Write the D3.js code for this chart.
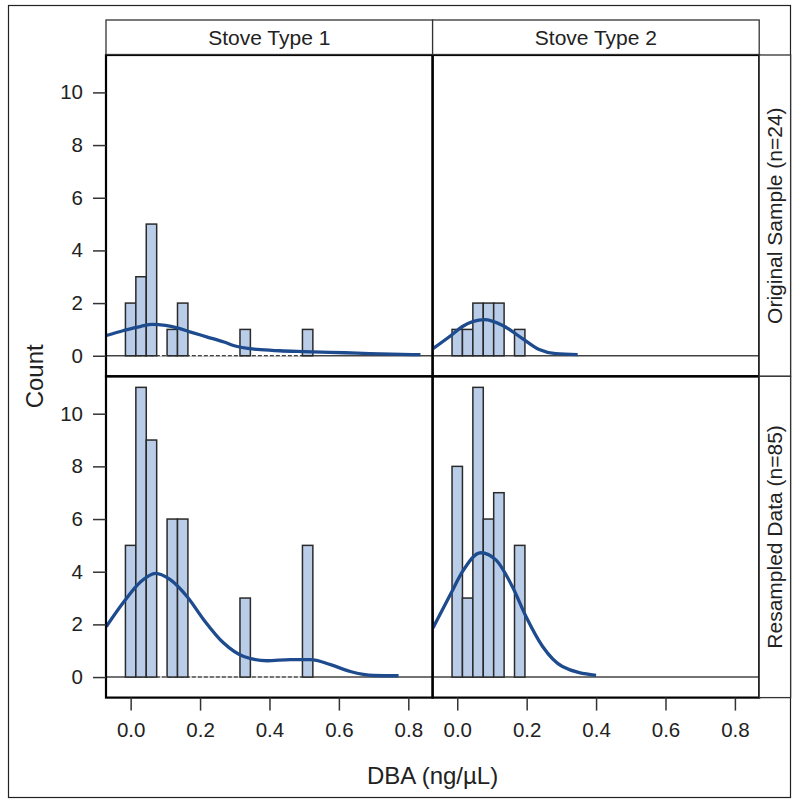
<!DOCTYPE html>
<html>
<head>
<meta charset="utf-8">
<script src="https://cdn.jsdelivr.net/npm/d3@7"></script>
<style>
  body { margin: 0; background: #fff; }
  svg text { font-family: "Liberation Sans", Arial, sans-serif; fill: #222; }
</style>
</head>
<body>
<svg width="796" height="801"></svg>
<script>
// column / row labels
const columns = ["Stove Type 1", "Stove Type 2"];
const rows = ["Original Sample (n=24)", "Resampled Data (n=85)"];

// histogram bin centers (bin width 0.03) and counts
const binWidth = 0.03;
const binsType1 = [0.0, 0.03, 0.06, 0.12, 0.15, 0.33, 0.51];
const origType1 = [2, 3, 5, 1, 2, 1, 1];
const resType1 = [5, 11, 9, 6, 6, 3, 5];
const binsType2 = [0.0, 0.03, 0.06, 0.09, 0.12, 0.18];
const origType2 = [1, 1, 2, 2, 2, 1];
const resType2 = [8, 3, 11, 6, 7, 5];

// kernel density curves: [x, count]
const kdeOrig1 = [[-0.07, 0.77], [-0.02, 0.96], [0.03, 1.12], [0.062, 1.19], [0.1, 1.15], [0.134, 1.06],
  [0.173, 0.9], [0.221, 0.71], [0.269, 0.52], [0.296, 0.39], [0.365, 0.24], [0.43, 0.19],
  [0.498, 0.16], [0.575, 0.13], [0.652, 0.1], [0.75, 0.06], [0.835, 0.04]];
const kdeRes1 = [[-0.07, 1.92], [-0.019, 2.87], [0.029, 3.62], [0.072, 3.94], [0.115, 3.69], [0.163, 3.05],
  [0.211, 2.17], [0.268, 1.29], [0.326, 0.78], [0.393, 0.62], [0.46, 0.66], [0.518, 0.66],
  [0.576, 0.47], [0.633, 0.21], [0.7, 0.06], [0.772, 0.05]];
const kdeOrig2 = [[-0.07, 0.27], [-0.018, 0.77], [0.015, 1.11], [0.078, 1.37], [0.131, 1.15],
  [0.188, 0.65], [0.236, 0.24], [0.284, 0.08], [0.347, 0.04]];
const kdeRes2 = [[-0.07, 1.86], [-0.018, 3.18], [0.015, 4.0], [0.068, 4.72], [0.112, 4.44],
  [0.159, 3.43], [0.198, 2.3], [0.246, 1.16], [0.303, 0.4], [0.4, 0.06]];

// axis ticks
const xTicks = [0, 0.2, 0.4, 0.6, 0.8];
const yTicks = [0, 2, 4, 6, 8, 10];

const panels = [
  { row: 0, col: 0, bins: binsType1, counts: origType1, kde: kdeOrig1 },
  { row: 0, col: 1, bins: binsType2, counts: origType2, kde: kdeOrig2 },
  { row: 1, col: 0, bins: binsType1, counts: resType1, kde: kdeRes1 },
  { row: 1, col: 1, bins: binsType2, counts: resType2, kde: kdeRes2 },
];

// layout
const gridLeft = 106, gridTop = 55;
const panelW = 326.6, panelH = 321.3;
const stripTop = 20, stripH = 34.5, stripW = 31.4;

const svg = d3.select("svg");

const x = d3.scaleLinear().domain([-0.071, 0.87]).range([0, panelW]);
const y = d3.scaleLinear().domain([-0.78, 11.42]).range([panelH, 0]);

drawFrame();
panels.forEach(drawPanel);
drawStrips();
drawAxes();

function drawFrame() {
  svg.append("rect")
    .attr("x", 8.5).attr("y", 5.5)
    .attr("width", 782).attr("height", 792)
    .attr("fill", "none")
    .attr("stroke", "#222")
    .attr("stroke-width", 1.2);
}

function drawPanel(p) {
  const g = svg.append("g")
    .attr("transform", `translate(${gridLeft + p.col * panelW},${gridTop + p.row * panelH})`);

  // zero line
  g.append("line")
    .attr("x1", 0).attr("x2", panelW)
    .attr("y1", y(0)).attr("y2", y(0))
    .attr("stroke", "#444")
    .attr("stroke-width", 1.4);

  // empty bins between bars show as a dashed baseline
  if (p.col === 0) {
    g.append("line")
      .attr("x1", x(d3.min(p.bins) + binWidth / 2))
      .attr("x2", x(d3.max(p.bins) - binWidth / 2))
      .attr("y1", y(0)).attr("y2", y(0))
      .attr("stroke", "#fff")
      .attr("stroke-width", 1.6)
      .attr("stroke-dasharray", "2,4");
  }

  // bars
  g.selectAll("rect.bar")
    .data(p.bins.map((b, i) => ({ b: b, c: p.counts[i] })))
    .join("rect")
    .attr("class", "bar")
    .attr("x", (d) => x(d.b - binWidth / 2))
    .attr("width", x(binWidth) - x(0))
    .attr("y", (d) => y(d.c))
    .attr("height", (d) => y(0) - y(d.c))
    .attr("fill", "#b9cde8")
    .attr("stroke", "#2a2a2a")
    .attr("stroke-width", 1.5);

  // density curve
  const line = d3.line()
    .x((d) => x(d[0]))
    .y((d) => y(d[1]))
    .curve(d3.curveMonotoneX);

  g.append("path")
    .datum(p.kde)
    .attr("d", line)
    .attr("fill", "none")
    .attr("stroke", "#1d4b8e")
    .attr("stroke-width", 3.3);

  // panel border
  g.append("rect")
    .attr("width", panelW).attr("height", panelH)
    .attr("fill", "none")
    .attr("stroke", "#000")
    .attr("stroke-width", 2.2);
}

function drawStrips() {
  // column headers
  columns.forEach(function (name, i) {
    const sx = gridLeft + i * panelW;
    svg.append("rect")
      .attr("x", sx).attr("y", stripTop)
      .attr("width", panelW).attr("height", stripH)
      .attr("fill", "#fff")
      .attr("stroke", "#333")
      .attr("stroke-width", 1.3);
    svg.append("text")
      .attr("x", sx + panelW / 2)
      .attr("y", stripTop + stripH / 2)
      .attr("text-anchor", "middle")
      .attr("dominant-baseline", "central")
      .attr("font-size", 21)
      .text(name);
  });

  // row headers on the right
  rows.forEach(function (name, i) {
    const sx = gridLeft + 2 * panelW;
    const sy = gridTop + i * panelH;
    svg.append("rect")
      .attr("x", sx).attr("y", sy)
      .attr("width", stripW).attr("height", panelH)
      .attr("fill", "#fff")
      .attr("stroke", "#333")
      .attr("stroke-width", 1.3);
    svg.append("text")
      .attr("transform", `translate(${sx + stripW / 2},${sy + panelH / 2}) rotate(-90)`)
      .attr("text-anchor", "middle")
      .attr("dominant-baseline", "central")
      .attr("font-size", 21)
      .text(name);
  });
}

function drawAxes() {
  // y axis for each row
  rows.forEach(function (r, i) {
    const ax = svg.append("g")
      .attr("transform", `translate(${gridLeft},${gridTop + i * panelH})`)
      .call(d3.axisLeft(y).tickValues(yTicks).tickSize(13).tickPadding(10));
    styleAxis(ax);
  });

  // x axis for each column
  columns.forEach(function (c, i) {
    const ax = svg.append("g")
      .attr("transform", `translate(${gridLeft + i * panelW},${gridTop + 2 * panelH})`)
      .call(d3.axisBottom(x).tickValues(xTicks).tickFormat(d3.format(".1f")).tickSize(13).tickPadding(12));
    styleAxis(ax);
  });

  // axis titles
  svg.append("text")
    .attr("transform", `translate(34,${gridTop + panelH}) rotate(-90)`)
    .attr("text-anchor", "middle")
    .attr("dominant-baseline", "central")
    .attr("font-size", 24)
    .text("Count");

  svg.append("text")
    .attr("x", gridLeft + panelW)
    .attr("y", 775)
    .attr("text-anchor", "middle")
    .attr("dominant-baseline", "central")
    .attr("font-size", 24)
    .text("DBA (ng/µL)");
}

function styleAxis(ax) {
  ax.select(".domain").remove();
  ax.selectAll(".tick line").attr("stroke", "#333").attr("stroke-width", 1.5);
  ax.selectAll(".tick text")
    .attr("font-size", 20.5)
    .attr("fill", "#222")
    .attr("font-family", "'Liberation Sans', Arial, sans-serif");
}
</script>
</body>
</html>
